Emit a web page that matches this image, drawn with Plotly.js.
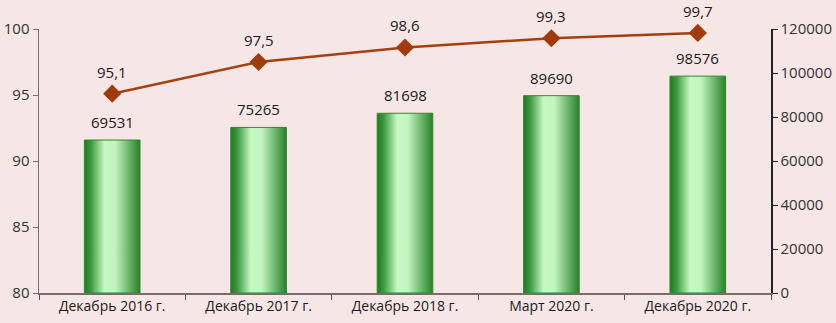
<!DOCTYPE html>
<html>
<head>
<meta charset="utf-8">
<script src="https://cdn.plot.ly/plotly-3.0.1.min.js"></script>
<style>
html,body{margin:0;padding:0;background:#F6E6E6;}
#chart{width:836px;height:323px;}
</style>
</head>
<body>
<div id="chart"></div>
<script>
const categories = ["Декабрь 2016 г.", "Декабрь 2017 г.", "Декабрь 2018 г.", "Март 2020 г.", "Декабрь 2020 г."];
const barValues = [69531, 75265, 81698, 89690, 98576];
const lineValues = [95.1, 97.5, 98.6, 99.3, 99.7];

const font = "'Open Sans', 'Noto Sans', sans-serif";
const labelFont = {family: font, size: 15, color: "#1a1a1a"};

const bars = {
  type: "bar",
  x: categories,
  y: barValues,
  yaxis: "y",
  marker: {color: "#7ccf7c", line: {color: "#2f8a2f", width: 1}},
  hoverinfo: "x+y"
};

const line = {
  type: "scatter",
  mode: "lines+markers",
  x: categories,
  y: lineValues,
  yaxis: "y2",
  cliponaxis: false,
  line: {color: "#A5400F", width: 2.5},
  marker: {symbol: "diamond", size: 14, color: "#A33A0B"}
};

const annotations = [];
categories.forEach((c, i) => {
  annotations.push({
    x: c, y: barValues[i], xref: "x", yref: "y",
    text: String(barValues[i]), showarrow: false, borderpad: 0,
    yshift: 18, font: labelFont
  });
  annotations.push({
    x: c, y: lineValues[i], xref: "x", yref: "y2",
    text: lineValues[i].toFixed(1).replace(".", ","), showarrow: false, borderpad: 0,
    yshift: 22, font: labelFont
  });
});

const layout = {
  width: 836,
  height: 323,
  margin: {l: 39, r: 65, t: 29, b: 30},
  paper_bgcolor: "#F6E6E6",
  plot_bgcolor: "#F6E6E6",
  showlegend: false,
  bargap: 0.62,
  font: {family: font, size: 14, color: "#333"},
  annotations: annotations,
  xaxis: {
    type: "category",
    showline: true,
    linecolor: "#7a6a6a",
    linewidth: 1.5,
    ticks: "outside",
    ticklen: 5,
    tickcolor: "#555",
    tickson: "boundaries",
    showgrid: false,
    zeroline: false,
    tickfont: {family: font, size: 14, color: "#1a1a1a"}
  },
  yaxis: {
    side: "right",
    range: [0, 120000],
    dtick: 20000,
    tickformat: "d",
    showline: true,
    linecolor: "#222",
    linewidth: 1.5,
    ticks: "outside",
    ticklen: 5,
    tickcolor: "#222",
    showgrid: false,
    zeroline: false,
    tickfont: {family: font, size: 15, color: "#333"}
  },
  yaxis2: {
    side: "left",
    overlaying: "y",
    range: [80, 100],
    dtick: 5,
    showline: true,
    linecolor: "#7a6a6a",
    linewidth: 1.5,
    ticks: "outside",
    ticklen: 5,
    tickcolor: "#7a6a6a",
    showgrid: false,
    zeroline: false,
    tickfont: {family: font, size: 15, color: "#333"}
  }
};

Plotly.newPlot("chart", [bars, line], layout, {displayModeBar: false, staticPlot: true}).then(gd => {
  const svg = gd.querySelector(".main-svg");
  const ns = "http://www.w3.org/2000/svg";
  let defs = svg.querySelector("defs");
  if (!defs) { defs = document.createElementNS(ns, "defs"); svg.insertBefore(defs, svg.firstChild); }
  const g = document.createElementNS(ns, "linearGradient");
  g.setAttribute("id", "barGrad");
  g.setAttribute("x1", "0"); g.setAttribute("x2", "1");
  g.setAttribute("y1", "0"); g.setAttribute("y2", "0");
  [[0, "#1f7a1f"], [0.12, "#3f9a3f"], [0.36, "#c6f8c2"], [0.55, "#c4f5c0"], [0.85, "#5aa85a"], [1, "#2a802a"]].forEach(([o, c]) => {
    const s = document.createElementNS(ns, "stop");
    s.setAttribute("offset", o); s.setAttribute("stop-color", c);
    g.appendChild(s);
  });
  defs.appendChild(g);
  gd.querySelectorAll(".barlayer .point path").forEach(p => {
    p.style.fill = "url(#barGrad)";
  });
});
</script>
</body>
</html>
